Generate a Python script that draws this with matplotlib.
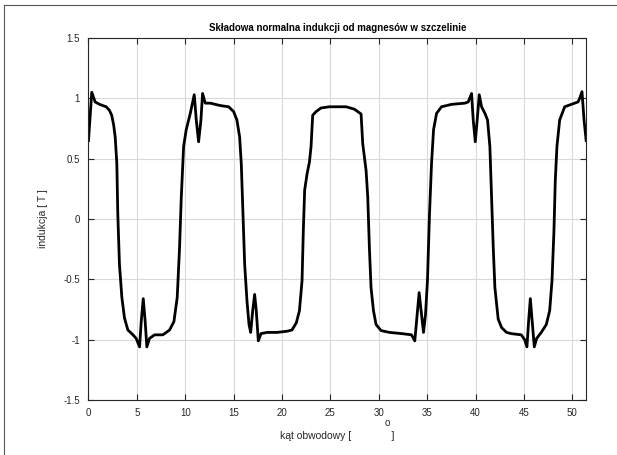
import matplotlib.pyplot as plt
from matplotlib.lines import Line2D

plt.rcParams['font.family'] = ['Liberation Sans', 'DejaVu Sans']

# angle [deg] and flux density [T]
kat = [0.0, 0.34, 0.69, 1.14, 1.83, 2.17, 2.4, 2.6, 2.76, 2.93, 3.03, 3.2, 3.45, 3.72,
       4.07, 4.6, 4.93, 5.28, 5.45, 5.66, 5.86, 6.03, 6.3, 6.83, 7.69, 8.38, 8.83,
       9.17, 9.41, 9.59, 9.83, 10.1, 10.52, 10.93, 11.14, 11.38, 11.62, 11.79,
       12.07, 12.59, 13.62, 14.48, 15.0, 15.34, 15.62, 15.79, 15.97, 16.14, 16.38,
       16.59, 16.76, 16.97, 17.17, 17.34, 17.55, 17.83, 18.45, 19.48, 20.52, 21.03,
       21.48, 21.8, 22.07, 22.2, 22.34, 22.59, 22.83, 23.0, 23.17, 23.52, 24.03,
       24.9, 26.62, 27.48, 28.17, 28.34, 28.69, 28.86, 29.03, 29.2, 29.45, 29.72,
       30.24, 31.1, 32.4, 33.38, 33.72, 33.97, 34.17, 34.41, 34.62, 34.83, 35.03,
       35.24, 35.45, 35.66, 35.97, 36.48, 37.52, 38.9, 39.24, 39.59, 39.76, 39.97,
       40.17, 40.38, 40.62, 40.97, 41.24, 41.48, 41.66, 41.83, 42.0, 42.34, 42.69,
       43.2, 43.69, 44.72, 45.07, 45.31, 45.48, 45.66, 45.86, 46.07, 46.31, 46.79,
       47.31, 47.66, 47.9, 48.1, 48.24, 48.41, 48.69, 49.21, 49.9, 50.59, 50.76,
       51.0, 51.21, 51.43]
indukcja = [0.65, 1.05, 0.97, 0.95, 0.93, 0.90, 0.86, 0.78, 0.68, 0.46, 0.04, -0.375, -0.65,
            -0.82, -0.92, -0.96, -0.99, -1.06, -0.85, -0.66, -0.85, -1.06, -0.99,
            -0.96, -0.96, -0.92, -0.85, -0.65, -0.24, 0.18, 0.6, 0.74, 0.875, 1.03,
            0.82, 0.64, 0.82, 1.04, 0.96, 0.96, 0.94, 0.93, 0.89, 0.82, 0.68, 0.46,
            0.04, -0.375, -0.68, -0.875, -0.94, -0.76, -0.625, -0.76, -1.01, -0.95,
            -0.94, -0.94, -0.93, -0.92, -0.86, -0.76, -0.51, -0.1, 0.24, 0.375, 0.47,
            0.6, 0.86, 0.89, 0.92, 0.93, 0.93, 0.91, 0.87, 0.625, 0.40, 0.18, -0.24,
            -0.57, -0.76, -0.875, -0.925, -0.94, -0.95, -0.96, -1.01, -0.79, -0.61,
            -0.79, -0.94, -0.79, -0.51, 0.04, 0.46, 0.74, 0.875, 0.93, 0.95, 0.96,
            0.97, 1.04, 0.82, 0.64, 0.82, 1.03, 0.93, 0.875, 0.82, 0.6, 0.18, -0.24,
            -0.57, -0.83, -0.9, -0.94, -0.95, -0.96, -1.0, -1.06, -0.85, -0.66, -0.85,
            -1.06, -0.99, -0.94, -0.875, -0.76, -0.51, -0.1, 0.32, 0.6, 0.82, 0.93,
            0.95, 0.97, 1.0, 1.055, 0.82, 0.65]

xticks = [0, 5, 10, 15, 20, 25, 30, 35, 40, 45, 50]
yticks = [-1.5, -1, -0.5, 0, 0.5, 1, 1.5]
ytick_labels = ['-1.5', '-1', '-0.5', '0', '0.5', '1', '1.5']

fig = plt.figure(figsize=(6.17, 4.55), dpi=100)
ax = fig.add_axes([0.1434, 0.1209, 0.8066, 0.7956])

ax.plot(kat, indukcja, color='black', linewidth=2, solid_joinstyle='round')

ax.set_xlim(0, 360 / 7)
ax.set_ylim(-1.5, 1.5)
ax.set_xticks(xticks)
ax.set_yticks(yticks)
ax.set_yticklabels(ytick_labels)
ax.grid(True, color='#d9d9d9', linewidth=0.8)
ax.set_axisbelow(True)
ax.tick_params(direction='in', top=True, right=True, length=4, width=0.8,
               labelsize=7, colors='#262626', pad=6)
for s in ax.spines.values():
    s.set_color('#262626')
    s.set_linewidth(0.8)

ax.set_title('Składowa normalna indukcji od magnesów w szczelinie',
             fontsize=7, fontweight='bold', pad=5)
ax.set_ylabel('indukcja [ T ]', fontsize=7.5, color='#262626', labelpad=11)
ax.set_xlabel('kąt obwodowy [              ]', fontsize=7.5, color='#262626', labelpad=9)
fig.text(387 / 617, 1 - 423 / 455, 'o', fontsize=7, color='#262626',
         ha='center', va='center')

# partial outer frame as seen in the screenshot
fig.add_artist(Line2D([4 / 617, 4 / 617], [0, 1 - 5 / 455], color='#555555', linewidth=0.8))
fig.add_artist(Line2D([4 / 617, 1], [1 - 5 / 455, 1 - 5 / 455], color='#555555', linewidth=0.8))

fig.savefig('out.png', dpi=100)
